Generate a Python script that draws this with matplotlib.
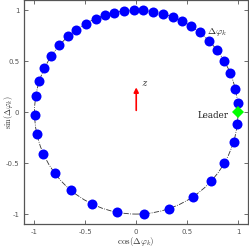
import numpy as np
import matplotlib
matplotlib.use('Agg')
import matplotlib.pyplot as plt
from matplotlib.patches import Circle

# phase offsets of the followers (degrees)
follower_phase_deg = [4.9, 13.4, 22.4, 30.4, 37.7, 44.3, 51.5, 57.5, 63.5, 69.0,
                      74.7, 80.5, 86.0, 91.5, 97.0, 102.4, 107.7, 113.5, 119.7, 126.0,
                      132.0, 139.0, 146.5, 154.6, 162.5, 171.0, 181.7, 192.6, 204.0,
                      216.8, 230.0, 244.5, 259.0, 274.5, 289.0, 304.0, 317.5, 330.0,
                      343.0, 353.5]
leader_phase_deg = [0.0]
ticks = [-1, -0.5, 0, 0.5, 1]
tick_labels = ['-1', '-0.5', '0', '0.5', '1']

plt.rcParams['mathtext.fontset'] = 'cm'
plt.rcParams['font.family'] = 'DejaVu Sans'

fig = plt.figure(figsize=(2.49, 2.47), dpi=100)
ax = fig.add_axes([0.0976, 0.092, 0.899, 0.908])

ax.add_patch(Circle((0, 0), 1, fill=False, linestyle='-.', linewidth=0.6, color='#333333', zorder=1))

phi = np.deg2rad(follower_phase_deg)
ax.plot(np.cos(phi), np.sin(phi), 'o', color='#0000ff', markersize=7.2, markeredgewidth=0, zorder=2)
lp = np.deg2rad(leader_phase_deg)
ax.plot(np.cos(lp), np.sin(lp), 'D', color='#00ff00', markersize=6.5, markeredgewidth=0, zorder=3)

ax.annotate('', xy=(0, 0.27), xytext=(0, -0.01),
            arrowprops=dict(arrowstyle='-|>', color='red', lw=1.2, mutation_scale=7))
ax.text(0.05, 0.29, r'$z$', fontsize=8, color='#333333', va='center', ha='left')
ax.text(0.91, -0.03, 'Leader', fontsize=6.3, color='#222222', va='center', ha='right',
        family='DejaVu Serif')
ax.text(0.70, 0.79, r'$\Delta\varphi_k$', fontsize=7, color='#222222', va='center', ha='left')

ax.set_xlim(-1.1, 1.1)
ax.set_ylim(-1.1, 1.1)
ax.set_xticks(ticks)
ax.set_xticklabels(tick_labels)
ax.set_yticks(ticks)
ax.set_yticklabels(tick_labels)
ax.tick_params(direction='in', length=3, width=0.6, labelsize=5, colors='#555555',
               top=True, right=True, pad=3.5)
for s in ax.spines.values():
    s.set_color('#555555')
    s.set_linewidth(0.9)

ax.set_xlabel(r'$\cos(\Delta\varphi_k)$', fontsize=6.5, color='#333333', labelpad=0)
ax.set_ylabel(r'$\sin(\Delta\varphi_k)$', fontsize=6, color='#333333')
ax.yaxis.set_label_coords(-0.042, 0.5)

fig.savefig('out.png', dpi=100)
